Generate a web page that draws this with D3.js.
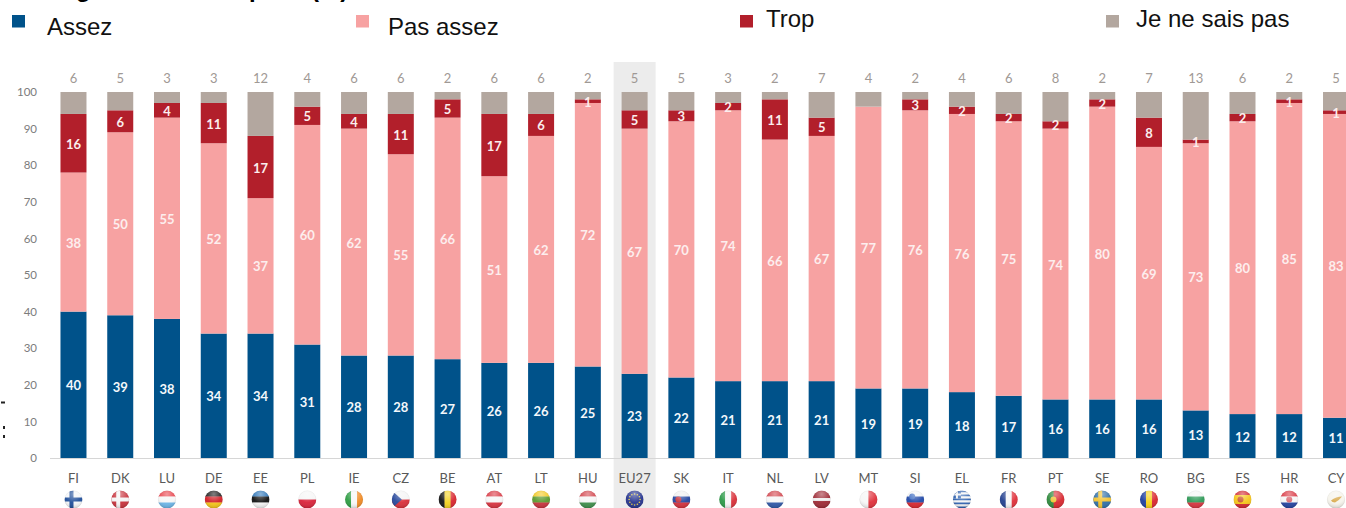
<!DOCTYPE html>
<html lang="fr">
<head>
<meta charset="utf-8">
<title>Assez, pas assez, trop</title>
<script src="https://cdn.jsdelivr.net/npm/d3@7/dist/d3.min.js"></script>
<style>
html,body{margin:0;padding:0;background:#fff;overflow:hidden}
svg{display:block}
</style>
</head>
<body>
<svg id="chart" width="1346" height="508"></svg>
<script>
const categories = ["FI","DK","LU","DE","EE","PL","IE","CZ","BE","AT","LT","HU","EU27","SK","IT","NL","LV","MT","SI","EL","FR","PT","SE","RO","BG","ES","HR","CY"];
const assez    = [40,39,38,34,34,31,28,28,27,26,26,25,23,22,21,21,21,19,19,18,17,16,16,16,13,12,12,11];
const pasAssez = [38,50,55,52,37,60,62,55,66,51,62,72,67,70,74,66,67,77,76,76,75,74,80,69,73,80,85,83];
const trop     = [16,6,4,11,17,5,4,11,5,17,6,1,5,3,2,11,5,0,3,2,2,2,2,8,1,2,1,1];
const nsp      = [6,5,3,3,12,4,6,6,2,6,6,2,5,5,3,2,7,4,2,4,6,8,2,7,13,6,2,5];
const seriesNames = ["Assez","Pas assez","Trop","Je ne sais pas"];
const yTicks = [0,10,20,30,40,50,60,70,80,90,100];

const seriesKeys = ["assez","pasAssez","trop","nsp"];
const colors = {assez:"#00528a",pasAssez:"#f7a2a2",trop:"#b21f2b",nsp:"#b3a79f"};
const labelColors = {assez:"#f4f8fb",pasAssez:"#fdeeee",trop:"#fbeeee"};
const labelFont = "Lato, Carlito, sans-serif";

const rows = categories.map((c,i)=>({cat:c,assez:assez[i],pasAssez:pasAssez[i],trop:trop[i],nsp:nsp[i]}));

const svg = d3.select("#chart");

const x = d3.scaleBand().domain(categories).range([50.1,1359.4]).paddingInner(0.444).paddingOuter(0.222);
const y = d3.scaleLinear().domain([0,100]).range([458,92]);

// EU27 highlight column
svg.append("rect")
  .attr("x",x("EU27")+x.bandwidth()/2-21).attr("width",42)
  .attr("y",62).attr("height",446).attr("fill","#ececec");

// Title fragments: the reference's title is cropped by the top edge of the picture
svg.append("g").attr("font-family","'Liberation Sans',Arial,sans-serif").attr("font-weight","700")
  .attr("font-size",24).attr("fill","#000")
  .selectAll("text").data([["g",76],["p",249],["(%)",311]]).join("text")
  .attr("x",d=>d[1]).attr("y",-3.5).text(d=>d[0]);

// Remains of cropped text at the left edge of the reference
svg.append("path").attr("d","M1,401.5h4v2h-4ZM3,426h2v3h-2ZM3,435h2v3h-2Z").attr("fill","#222");

// Stacked bars
const stacked = d3.stack().keys(seriesKeys)(rows);
const groups = svg.append("g").selectAll("g").data(stacked).join("g")
  .attr("fill",s=>colors[s.key]);
groups.selectAll("rect").data(s=>s).join("rect")
  .attr("x",d=>x(d.data.cat)).attr("width",x.bandwidth())
  .attr("y",d=>y(d[1])).attr("height",d=>y(d[0])-y(d[1]));

// Value labels inside the segments
const labelled = stacked.filter(s=>s.key!=="nsp");
svg.append("g").selectAll("g").data(labelled).join("g")
  .attr("fill",s=>labelColors[s.key])
  .attr("font-family",labelFont).attr("font-weight","700").attr("font-size",13)
  .attr("text-anchor","middle")
  .selectAll("text").data(s=>s.map(d=>({v:d[1]-d[0],mid:(d[0]+d[1])/2,cat:d.data.cat}))).join("text")
  .filter(d=>d.v>0)
  .attr("x",d=>x(d.cat)+x.bandwidth()/2).attr("y",d=>y(d.mid)+1).attr("dy","0.35em")
  .text(d=>d.v);

// "Je ne sais pas" values above the bars
svg.append("g").attr("font-family",labelFont).attr("font-size",13).attr("fill","#9f9995").attr("text-anchor","middle")
  .selectAll("text").data(rows).join("text")
  .attr("x",d=>x(d.cat)+x.bandwidth()/2).attr("y",78).attr("dy","0.35em").text(d=>d.nsp);

// Y axis
const yAxis = svg.append("g").attr("transform","translate(37,0)")
  .call(d3.axisLeft(y).tickValues(yTicks).tickSize(0).tickPadding(0));
yAxis.select(".domain").remove();
yAxis.selectAll("text").attr("font-family",labelFont).attr("font-size",11.5).attr("fill","#7c7c7c");

// X axis
const xAxis = svg.append("g").attr("transform","translate(0,458)")
  .call(d3.axisBottom(x).tickSize(0).tickPadding(0));
xAxis.select(".domain").attr("d","M50,0.5H1346").attr("stroke","#d6d6d6").attr("stroke-width",1).attr("fill","none");
xAxis.selectAll("text").attr("font-family",labelFont).attr("font-size",13).attr("fill","#595959").attr("y",20).attr("dy","0");
xAxis.selectAll("text").attr("dominant-baseline","central");

// Legend
const legendSwatchX = [12,356,740,1106];
const legendTextX = [47,388,766,1136];
const legendBaseline = [35,35,27,27];
const legend = svg.append("g").selectAll("g").data(seriesNames).join("g");
legend.append("rect").attr("x",(d,i)=>legendSwatchX[i]).attr("y",15).attr("width",13).attr("height",12.5)
  .attr("fill",(d,i)=>colors[seriesKeys[i]]);
legend.append("text").attr("x",(d,i)=>legendTextX[i]).attr("y",(d,i)=>legendBaseline[i])
  .attr("font-family","'Liberation Sans',Arial,sans-serif").attr("font-size",24).attr("fill","#111").text(d=>d);

// Round flags
const flagDefs = {
  FI:{cross:["#f4f6f8","#1f4e9a"]}, DK:{cross:["#c8323c","#f4f4f4"]}, SE:{cross:["#2f6fa8","#f2c230"]},
  LU:{h:["#e8414a","#f6f6f6","#6db6e8"]}, DE:{h:["#1a1a1a","#d21f26","#f5c518"]}, EE:{h:["#2b74b8","#111111","#f4f4f4"]},
  PL:{h:["#f6f6f6","#d9233a"]}, IE:{v:["#2f9e44","#f6f6f6","#f08a24"]}, CZ:{cz:true}, BE:{v:["#161616","#f5d21f","#d9262e"]},
  AT:{h:["#d9333f","#f6f6f6","#d9333f"]}, LT:{h:["#f2c81e","#5a9a2e","#c8323c"]}, HU:{h:["#d2424a","#f6f6f6","#3f8f4c"]},
  EU27:{eu:true}, SK:{h:["#f0f0f0","#2345a0","#d4303c"],dot:"#c8323c"}, IT:{v:["#2c9a48","#f6f6f6","#d92f38"]},
  NL:{h:["#d2424a","#f6f6f6","#2f58a8"]}, LV:{h:["#9e2a35","#f0f0f0","#9e2a35"],bands:[0.42,0.16,0.42]},
  MT:{v:["#f6f6f6","#e0303a"]}, SI:{h:["#f6f6f6","#2048a8","#d9262e"],dot:"#3b6ac0"},
  EL:{greek:true}, FR:{v:["#23408f","#f6f6f6","#e0303a"]}, PT:{v:["#2f8a3c","#d8262e"],bands:[0.4,0.6],dot:"#f0c030"},
  RO:{v:["#1f3f9f","#f7d117","#d9262e"]}, BG:{h:["#f6f6f6","#2f9a58","#d9333f"]},
  ES:{h:["#d2262e","#f5c518","#d2262e"],bands:[0.25,0.5,0.25],dot:"#c8522e"},
  HR:{h:["#d9333f","#f6f6f6","#2343a0"],dot:"#d9606a"}, CY:{cy:true}
};
const r = 9, flagY = 499.5;
const defs = svg.append("defs");
const gloss = defs.append("radialGradient").attr("id","gloss").attr("cx","50%").attr("cy","20%").attr("r","80%");
gloss.append("stop").attr("offset","0%").attr("stop-color","#fff").attr("stop-opacity",0.45);
gloss.append("stop").attr("offset","60%").attr("stop-color","#fff").attr("stop-opacity",0.05);
gloss.append("stop").attr("offset","100%").attr("stop-color","#000").attr("stop-opacity",0.18);
defs.append("clipPath").attr("id","flagClip").append("circle").attr("r",r);

const flags = svg.append("g").selectAll("g").data(categories).join("g")
  .attr("transform",c=>`translate(${x(c)+x.bandwidth()/2},${flagY})`);
flags.each(function(c){
  const g = d3.select(this).append("g").attr("clip-path","url(#flagClip)");
  const f = flagDefs[c];
  const rect=(a,b,w,h,col)=>g.append("rect").attr("x",a).attr("y",b).attr("width",w).attr("height",h).attr("fill",col);
  const D = 2*r;
  if(f.h||f.v){
    const cols=f.h||f.v; const bands=f.bands||cols.map(()=>1/cols.length); let p=-r;
    cols.forEach((col,i)=>{const s=bands[i]*D; if(f.h) rect(-r,p,D,s+0.3,col); else rect(p,-r,s+0.3,D,col); p+=s;});
    if(f.dot) g.append("circle").attr("cx",c==="PT"?-2:(c==="HR"?0:(c==="ES"?-2:-3))).attr("cy",c==="SI"?-3:0).attr("r",3).attr("fill",f.dot);
  } else if(f.cross){
    rect(-r,-r,D,D,f.cross[0]); rect(-r,-2,D,4,f.cross[1]); rect(-4,-r,4,D,f.cross[1]);
  } else if(f.cz){
    rect(-r,-r,D,r,"#f4f4f4"); rect(-r,0,D,r,"#d9303a");
    g.append("path").attr("d","M-9,-9L1,0L-9,9Z").attr("fill","#27489c");
  } else if(f.eu){
    rect(-r,-r,D,D,"#25348f");
    d3.range(12).forEach(i=>{const a=i*Math.PI/6;g.append("circle").attr("cx",5.5*Math.cos(a)).attr("cy",5.5*Math.sin(a)).attr("r",0.8).attr("fill","#e8d040");});
  } else if(f.greek){
    d3.range(9).forEach(i=>rect(-r,-r+i*2,D,2,i%2?"#f4f4f4":"#2f62b0"));
    rect(-r,-r,8,8,"#2f62b0"); rect(-r,-6,8,2,"#f4f4f4"); rect(-6,-r,2,8,"#f4f4f4");
  } else if(f.cy){
    rect(-r,-r,D,D,"#f6f4ec");
    g.append("path").attr("d","M-5,1Q0,-3 6,-3Q3,1 -1,3Q-4,3 -5,1Z").attr("fill","#d8a848");
  }
  d3.select(this).append("circle").attr("r",r).attr("fill","url(#gloss)");
  d3.select(this).append("circle").attr("r",r-0.25).attr("fill","none").attr("stroke","#000").attr("stroke-opacity",0.08).attr("stroke-width",0.5);
});
</script>
</body>
</html>
